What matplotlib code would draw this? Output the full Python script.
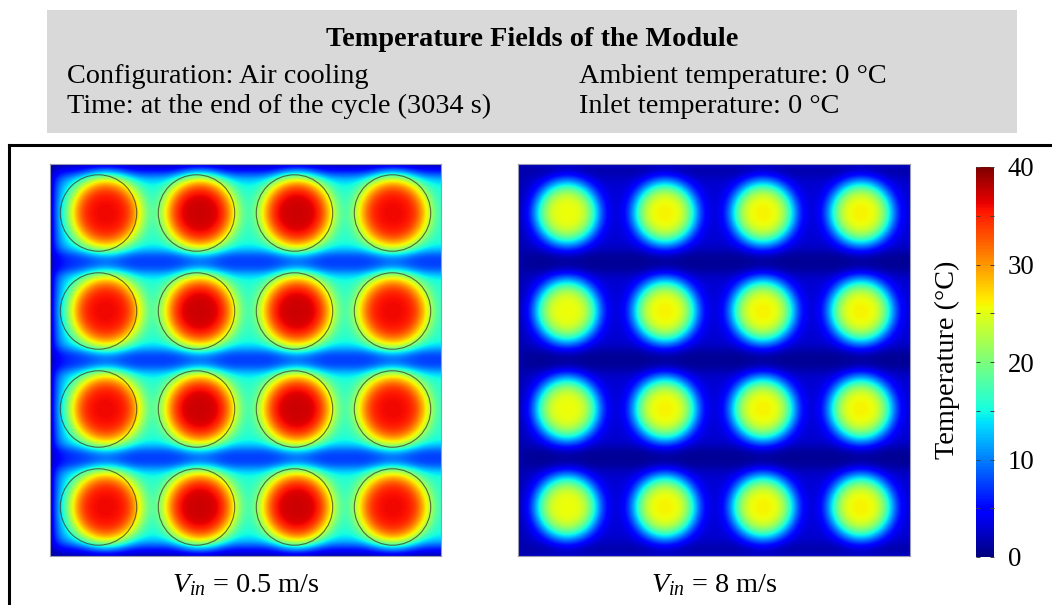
#!/usr/bin/env python3

import numpy as np
import matplotlib
matplotlib.use("Agg")
import matplotlib.pyplot as plt
from matplotlib.patches import Rectangle, Circle
from matplotlib.lines import Line2D
from matplotlib.ticker import MultipleLocator

plt.rcParams["font.family"] = ["Liberation Serif", "DejaVu Serif"]
plt.rcParams["mathtext.fontset"] = "custom"
plt.rcParams["mathtext.rm"] = "Liberation Serif"
plt.rcParams["mathtext.it"] = "Liberation Serif:italic"

FIG_W, FIG_H = 1052, 605
NPIX = 480
FS = 20.3

# 4 x 4 module, positions in cell-pitch units
COL_X = [0.5, 1.5, 2.5, 3.5]
ROW_Y = [0.5, 1.5, 2.5, 3.5]
CELL_R = 0.39

# V_in = 0.5 m/s
SLOW_PEAK = [36.0, 37.2, 37.2, 36.0]   # core temperature per column (°C)
SLOW_SHIFT = [0.07, 0.03, 0.02, 0.0]   # downstream shift of the hot core
SLOW_ROW, SLOW_CHANNEL, SLOW_WALL, SLOW_INLET = 16.0, 7.5, 1.5, 1.0

# V_in = 8 m/s
FAST_PEAK = [25.5, 26.0, 26.0, 26.0]
FAST_SHIFT = [0.0, 0.0, 0.0, 0.0]
FAST_ROW, FAST_CHANNEL, FAST_WALL, FAST_INLET = 3.0, 0.8, 2.5, 1.5

T_MIN, T_MAX = 0, 40
TICKS = [0, 10, 20, 30, 40]

TITLE = "Temperature Fields of the Module"
INFO_LEFT = ["Configuration: Air cooling", "Time: at the end of the cycle (3034 s)"]
INFO_RIGHT = ["Ambient temperature: 0 \u00b0C", "Inlet temperature: 0 \u00b0C"]
PANEL_LABELS = [r"$V_{in}$ = 0.5 m/s", r"$V_{in}$ = 8 m/s"]


def fx(px):
    return px / FIG_W


def fy(py):
    return 1 - py / FIG_H


def temperature_field(peaks, shifts, t_row, t_channel, t_wall, t_inlet, s, p):
    g = (np.arange(NPIX) + 0.5) / NPIX * 4
    X, Y = np.meshgrid(g, g)

    # air channels between the rows of cells are cooler
    dy = np.abs(Y % 1.0 - 0.5)
    band = np.exp(-(dy / 0.40) ** 8)
    bg = t_channel + (t_row - t_channel) * band

    edge = np.minimum(Y, 4 - Y)
    bg = t_wall + (bg - t_wall) * (1 - np.exp(-edge / 0.08))
    bg = t_inlet + (bg - t_inlet) * (1 - np.exp(-X / 0.10))

    T = bg.copy()
    for cy in ROW_Y:
        for cx, pk, sh in zip(COL_X, peaks, shifts):
            rho = np.hypot(X - cx - sh, Y - cy) / CELL_R
            T += (pk - bg) * np.exp(-(rho / s) ** p)
    return T


def draw_panel(fig, rect, T, outlines, label, label_x):
    ax = fig.add_axes(rect)
    ax.imshow(T, extent=(0, 4, 0, 4), origin="lower", cmap="jet",
              vmin=T_MIN, vmax=T_MAX, interpolation="bilinear")
    if outlines:
        for cy in ROW_Y:
            for cx in COL_X:
                ax.add_patch(Circle((cx, cy), CELL_R, fill=False,
                                    ec="#3c3c28", lw=0.8, alpha=0.75))
    ax.set_xlim(0, 4)
    ax.set_ylim(0, 4)
    ax.set_xticks([])
    ax.set_yticks([])
    for sp in ax.spines.values():
        sp.set_color("#9a9ab4")
        sp.set_linewidth(0.8)
    fig.text(fx(label_x), fy(592), label, ha="center", va="baseline", fontsize=FS)
    return ax


def main():
    fig = plt.figure(figsize=(FIG_W / 100, FIG_H / 100), dpi=100)

    # header box
    fig.patches.append(Rectangle((fx(47), fy(133)), fx(1017) - fx(47), fy(10) - fy(133),
                                 transform=fig.transFigure, facecolor="#d9d9d9",
                                 edgecolor="none", zorder=0))
    fig.text(fx(532), fy(46), TITLE, ha="center", va="baseline",
             fontsize=FS, fontweight="bold")
    for i, (l, r) in enumerate(zip(INFO_LEFT, INFO_RIGHT)):
        fig.text(fx(67), fy(83 + i * 30), l, ha="left", va="baseline", fontsize=FS)
        fig.text(fx(579), fy(83 + i * 30), r, ha="left", va="baseline", fontsize=FS)

    # frame round the two fields
    fig.lines.append(Line2D([fx(9.5), 1.0], [fy(144.5), fy(144.5)],
                            transform=fig.transFigure, color="black", lw=2.2))
    fig.lines.append(Line2D([fx(9.5), fx(9.5)], [fy(144.5), 0.0],
                            transform=fig.transFigure, color="black", lw=2.2,
                            solid_capstyle="projecting"))

    slow = temperature_field(SLOW_PEAK, SLOW_SHIFT, SLOW_ROW, SLOW_CHANNEL,
                             SLOW_WALL, SLOW_INLET, s=0.955, p=4)
    fast = temperature_field(FAST_PEAK, FAST_SHIFT, FAST_ROW, FAST_CHANNEL,
                             FAST_WALL, FAST_INLET, s=0.83, p=3.5)

    h = 392 / FIG_H
    draw_panel(fig, [fx(49), fy(556), 393 / FIG_W, h], slow, True,
               PANEL_LABELS[0], 245.5)
    draw_panel(fig, [fx(518), fy(556), 392 / FIG_W, h], fast, False,
               PANEL_LABELS[1], 714)

    cax = fig.add_axes([fx(976), fy(557), 18 / FIG_W, 390 / FIG_H])
    sm = plt.cm.ScalarMappable(cmap="jet", norm=plt.Normalize(T_MIN, T_MAX))
    cb = fig.colorbar(sm, cax=cax, ticks=TICKS)
    cb.outline.set_visible(False)
    cax.yaxis.set_minor_locator(MultipleLocator(5))
    cax.tick_params(which="both", direction="in", left=True, right=True,
                    length=3, width=0.7, color="#404040", labelsize=FS - 1, pad=10)
    fig.text(fx(947), fy(360), "Temperature (\u00b0C)", rotation=90,
             ha="center", va="center", fontsize=FS)

    fig.savefig("out.png", dpi=100)
    plt.close(fig)


if __name__ == "__main__":
    main()
